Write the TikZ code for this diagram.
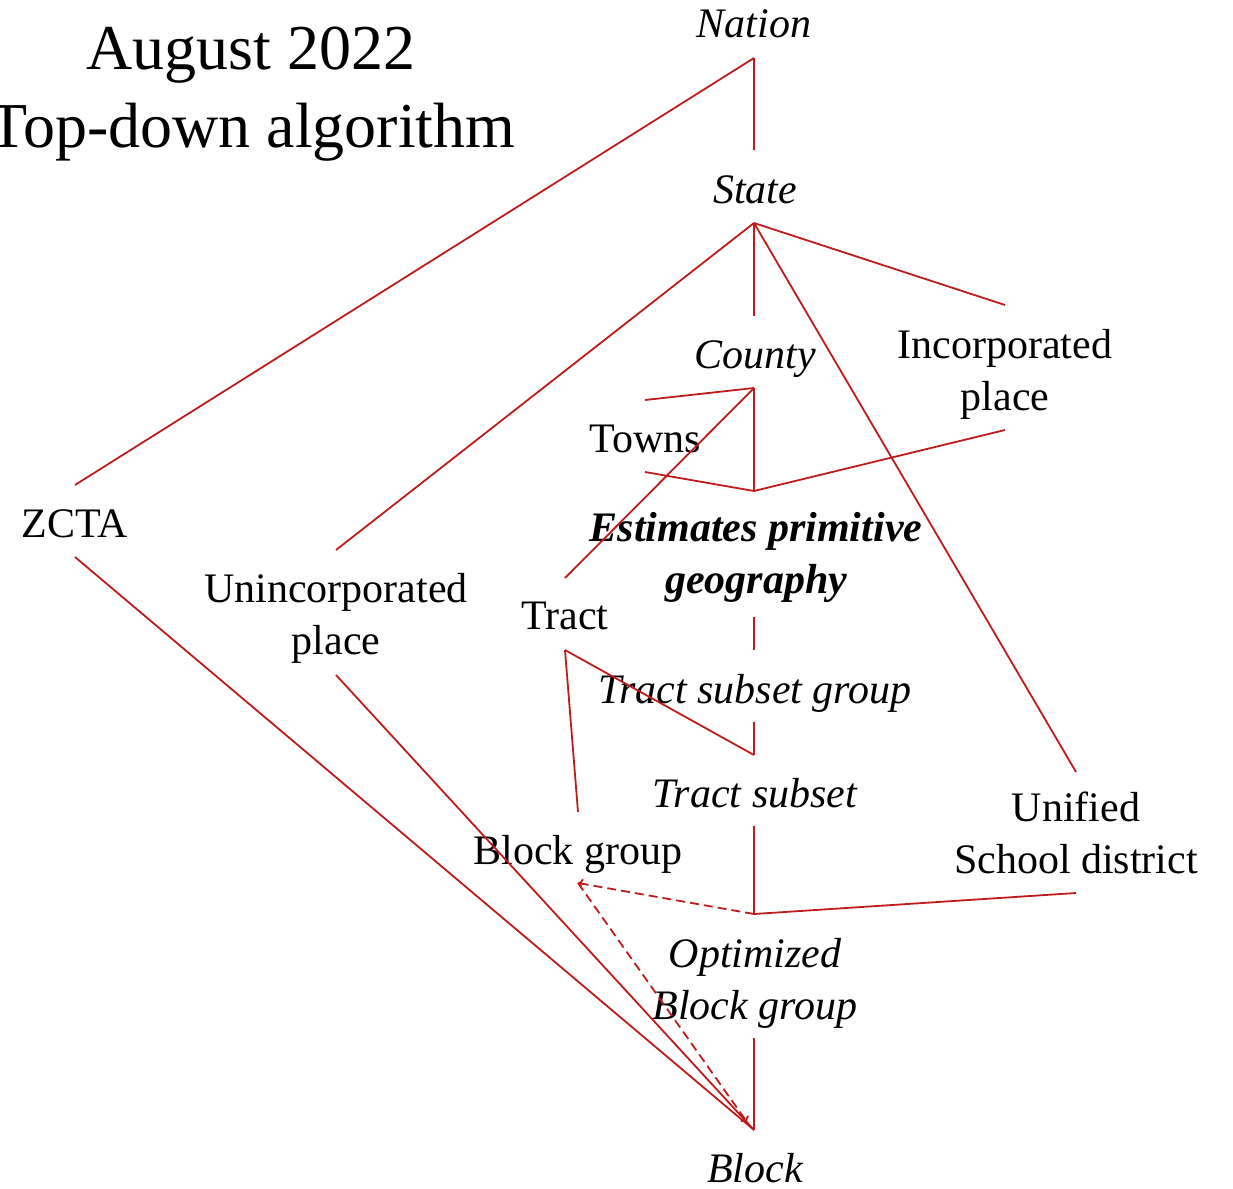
\documentclass[tikz,border=0pt]{standalone}
\usepackage{fontspec}
\setmainfont{Liberation Serif}
\usetikzlibrary{arrows.meta}
\definecolor{linkred}{RGB}{190,28,28}
\begin{document}
\begin{tikzpicture}[x=1pt,y=-1pt,
  lbl/.style={inner sep=0pt,font=\fontsize{42}{52}\selectfont,align=center},
  ilbl/.style={lbl,font=\fontsize{42}{52}\selectfont\itshape},
  link/.style={draw=linkred,line width=1.8pt},
  dlink/.style={link,dashed,dash pattern=on 9pt off 5pt,-{To[length=5pt,width=10pt]}}]
\useasboundingbox (0,0) rectangle (1233,1188);

% title
\node[lbl,font=\fontsize{64}{77}\selectfont,anchor=base] (title1) at (251,70) {August 2022};
\node[lbl,font=\fontsize{64}{77}\selectfont,anchor=base] (title2) at (252,147) {Top-down algorithm};

% geography levels
\node[ilbl,anchor=base] (nation) at (754,38) {Nation};
\node[ilbl,anchor=base] (state) at (755,203) {State};
\node[ilbl,anchor=base] (county) at (755,368) {County};
\node[lbl] (incorp) at (1005,374) {Incorporated\\place};
\node[lbl,anchor=base] (towns) at (645,452) {Towns};
\node[lbl,font=\fontsize{42}{52}\selectfont\bfseries\itshape] (prim) at (756,557) {Estimates primitive\\geography};
\node[lbl,anchor=base] (zcta) at (75,537) {ZCTA};
\node[lbl] (unincorp) at (336,618) {Unincorporated\\place};
\node[lbl,anchor=base] (tract) at (565,629) {Tract};
\node[ilbl,anchor=base] (tsg) at (755,703) {Tract subset group};
\node[ilbl,anchor=base] (ts) at (755,807) {Tract subset};
\node[lbl] (usd) at (1076,833) {Unified\\School district};
\node[lbl,anchor=base] (bg) at (578,864) {Block group};
\node[ilbl] (obg) at (755,983) {Optimized\\Block group};
\node[ilbl,anchor=base] (block) at (755,1182) {Block};

% connector end points
\coordinate (nationB) at (754,58);
\coordinate (stateT) at (754,150);
\coordinate (stateB) at (754,223);
\coordinate (countyT) at (754,316);
\coordinate (countyB) at (754,388);
\coordinate (incorpT) at (1005,305);
\coordinate (incorpB) at (1005,430);
\coordinate (townsT) at (645,400);
\coordinate (townsB) at (645,472);
\coordinate (primT) at (754,491);
\coordinate (primB) at (754,617);
\coordinate (tsgT) at (754,650);
\coordinate (tsgB) at (754,722);
\coordinate (tsT) at (754,755);
\coordinate (tsB) at (754,826);
\coordinate (obgT) at (754,914);
\coordinate (obgB) at (754,1038);
\coordinate (blockT) at (754,1130);
\coordinate (blockA) at (747,1122);
\coordinate (zctaT) at (75,485);
\coordinate (zctaB) at (75,557);
\coordinate (unincorpT) at (336,550);
\coordinate (unincorpB) at (336,675);
\coordinate (tractT) at (565,578);
\coordinate (tractB) at (565,650);
\coordinate (usdT) at (1076,772);
\coordinate (usdB) at (1076,893);
\coordinate (bgT) at (578,812);
\coordinate (bgB) at (578,883);

% hierarchy
\draw[link] (nationB) -- (stateT);
\draw[link] (nationB) -- (zctaT);
\draw[link] (stateB) -- (countyT);
\draw[link] (stateB) -- (incorpT);
\draw[link] (stateB) -- (unincorpT);
\draw[link] (stateB) -- (usdT);
\draw[link] (countyB) -- (townsT);
\draw[link] (countyB) -- (primT);
\draw[link] (countyB) -- (tractT);
\draw[link] (townsB) -- (primT);
\draw[link] (incorpB) -- (primT);
\draw[link] (primB) -- (tsgT);
\draw[link] (tsgB) -- (tsT);
\draw[link] (tractB) -- (tsT);
\draw[link] (tractB) -- (bgT);
\draw[link] (tsB) -- (obgT);
\draw[link] (usdB) -- (obgT);
\draw[link] (obgB) -- (blockT);
\draw[link] (zctaB) -- (blockT);
\draw[link] (unincorpB) -- (blockT);
\draw[dlink] (obgT) -- (bgB);
\draw[dlink] (bgB) -- (blockA);
\end{tikzpicture}
\end{document}
